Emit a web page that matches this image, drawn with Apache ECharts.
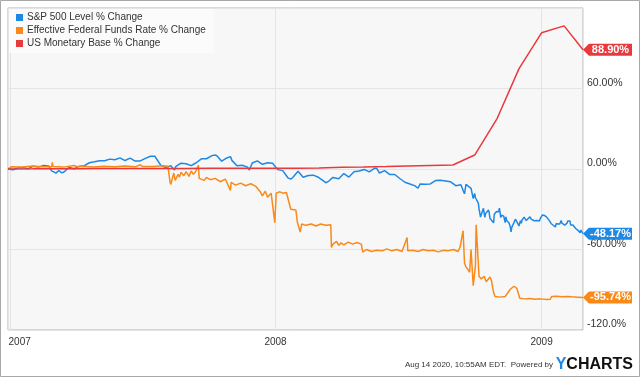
<!DOCTYPE html>
<html>
<head>
<meta charset="utf-8">
<script src="https://cdn.jsdelivr.net/npm/echarts@6/dist/echarts.min.js"></script>
<style>
  html, body { margin: 0; padding: 0; background: #fff; }
  #chart { width: 640px; height: 377px; }
</style>
</head>
<body>
<div id="chart"></div>
<script>
// % change since 2006-12-29
var spx = [
  ['2006-12-29',0],['2007-01-05',-0.61],['2007-01-12',0.87],['2007-01-19',0.86],['2007-01-26',0.27],
  ['2007-02-02',2.12],['2007-02-09',1.40],['2007-02-16',2.62],['2007-02-23',2.32],['2007-02-27',-1.36],
  ['2007-03-02',-2.19],['2007-03-05',-3.11],['2007-03-09',-1.09],['2007-03-13',-2.9],['2007-03-16',-2.21],
  ['2007-03-23',1.26],['2007-03-30',0.18],['2007-04-05',1.80],['2007-04-13',2.44],['2007-04-20',4.66],
  ['2007-04-27',5.34],['2007-05-04',6.16],['2007-05-11',6.17],['2007-05-18',7.36],['2007-05-25',6.87],
  ['2007-06-01',8.32],['2007-06-08',6.30],['2007-06-15',8.08],['2007-06-22',5.94],['2007-06-29',6.00],
  ['2007-07-06',7.90],['2007-07-13',9.46],['2007-07-19',9.50],['2007-07-20',8.16],['2007-07-27',2.87],
  ['2007-08-03',1.04],['2007-08-10',2.49],['2007-08-15',-0.82],['2007-08-17',1.95],['2007-08-24',4.31],
  ['2007-08-31',3.93],['2007-09-07',2.49],['2007-09-14',4.65],['2007-09-21',7.58],['2007-09-28',7.65],
  ['2007-10-05',9.82],['2007-10-09',10.35],['2007-10-12',10.12],['2007-10-19',5.80],['2007-10-26',8.25],
  ['2007-10-31',9.24],['2007-11-02',6.44],['2007-11-09',2.50],['2007-11-16',2.85],['2007-11-23',1.58],
  ['2007-11-26',-0.78],['2007-11-30',4.43],['2007-12-07',6.09],['2007-12-14',3.50],['2007-12-21',4.66],
  ['2007-12-28',4.24],['2008-01-04',-0.47],['2008-01-11',-1.22],['2008-01-18',-6.56],['2008-01-22',-7.60],
  ['2008-01-25',-6.18],['2008-02-01',-1.61],['2008-02-08',-6.13],['2008-02-15',-4.82],['2008-02-22',-4.60],
  ['2008-02-29',-6.18],['2008-03-07',-8.81],['2008-03-10',-10.22],['2008-03-14',-9.18],['2008-03-20',-6.26],
  ['2008-03-28',-7.27],['2008-04-04',-3.38],['2008-04-11',-6.03],['2008-04-18',-1.97],['2008-04-25',-1.44],
  ['2008-05-02',-0.31],['2008-05-09',-2.12],['2008-05-16',0.50],['2008-05-19',0.59],['2008-05-23',-2.99],
  ['2008-05-30',-1.26],['2008-06-06',-4.06],['2008-06-13',-4.11],['2008-06-20',-7.08],['2008-06-27',-9.87],
  ['2008-07-03',-10.96],['2008-07-11',-12.61],['2008-07-15',-14.34],['2008-07-18',-11.11],['2008-07-25',-11.32],
  ['2008-08-01',-11.14],['2008-08-08',-8.60],['2008-08-15',-8.47],['2008-08-22',-8.89],['2008-08-29',-9.55],
  ['2008-09-05',-12.41],['2008-09-12',-11.75],['2008-09-15',-15.91],['2008-09-17',-18.47],['2008-09-19',-11.51],
  ['2008-09-26',-14.46],['2008-09-29',-21.99],['2008-10-01',-18.14],['2008-10-02',-21.44],['2008-10-03',-22.50],
  ['2008-10-06',-25.48],['2008-10-07',-29.76],['2008-10-08',-30.55],['2008-10-09',-35.84],['2008-10-10',-36.60],
  ['2008-10-13',-29.26],['2008-10-14',-29.63],['2008-10-15',-35.99],['2008-10-16',-33.27],['2008-10-17',-33.68],
  ['2008-10-20',-30.52],['2008-10-21',-32.66],['2008-10-22',-36.77],['2008-10-23',-35.97],['2008-10-24',-38.18],
  ['2008-10-27',-40.15],['2008-10-28',-33.69],['2008-10-29',-34.42],['2008-10-30',-32.73],['2008-10-31',-31.70],
  ['2008-11-03',-31.87],['2008-11-04',-29.09],['2008-11-05',-32.82],['2008-11-06',-36.20],['2008-11-07',-34.36],
  ['2008-11-10',-35.19],['2008-11-11',-36.62],['2008-11-12',-39.91],['2008-11-13',-35.75],['2008-11-14',-38.43],
  ['2008-11-17',-40.02],['2008-11-18',-39.43],['2008-11-19',-43.13],['2008-11-20',-46.95],['2008-11-21',-43.59],
  ['2008-11-24',-39.94],['2008-11-25',-39.55],['2008-11-26',-37.41],['2008-11-28',-36.81],['2008-12-01',-42.45],
  ['2008-12-02',-40.15],['2008-12-03',-38.61],['2008-12-04',-40.41],['2008-12-05',-38.23],['2008-12-08',-35.86],
  ['2008-12-09',-37.34],['2008-12-10',-36.60],['2008-12-11',-38.41],['2008-12-12',-37.97],['2008-12-16',-35.61],
  ['2008-12-17',-36.23],['2008-12-18',-37.58],['2008-12-19',-37.40],['2008-12-22',-38.54],['2008-12-26',-38.46],
  ['2008-12-29',-38.70],['2008-12-30',-37.20],['2008-12-31',-36.31],['2009-01-02',-34.30],['2009-01-05',-34.61],
  ['2009-01-06',-34.10],['2009-01-07',-36.08],['2009-01-08',-35.86],['2009-01-09',-37.22],['2009-01-12',-38.64],
  ['2009-01-13',-38.53],['2009-01-14',-40.59],['2009-01-15',-40.51],['2009-01-16',-40.06],['2009-01-20',-43.23],
  ['2009-01-21',-40.76],['2009-01-22',-41.66],['2009-01-23',-41.34],['2009-01-26',-41.02],['2009-01-27',-40.37],
  ['2009-01-28',-38.37],['2009-01-29',-40.41],['2009-01-30',-41.77],['2009-02-02',-41.80],['2009-02-03',-40.88],
  ['2009-02-04',-41.32],['2009-02-05',-40.36],['2009-02-06',-38.76],['2009-02-09',-38.67],['2009-02-10',-41.68],
  ['2009-02-11',-41.22],['2009-02-12',-41.11],['2009-02-13',-41.70],['2009-02-17',-44.36],['2009-02-18',-44.41],
  ['2009-02-19',-45.08],['2009-02-20',-45.71],['2009-02-23',-47.59],['2009-02-24',-45.49],['2009-02-25',-46.07],
  ['2009-02-26',-46.92],['2009-02-27',-48.17]
];

var fedFunds = [
  ['2006-12-29',0],['2007-01-03',1.7],['2007-01-17',1.5],['2007-02-01',2.2],['2007-02-14',1.6],
  ['2007-02-27',1.6],['2007-02-28',5.0],['2007-03-01',1.8],['2007-03-15',1.4],['2007-03-30',2.6],
  ['2007-04-03',1.7],['2007-04-10',2.0],['2007-04-25',1.5],['2007-05-10',2.0],['2007-05-25',1.7],
  ['2007-06-08',2.3],['2007-06-22',1.6],['2007-06-29',3.2],['2007-07-02',1.8],['2007-07-16',1.9],
  ['2007-07-31',2.4],['2007-08-06',2.0],['2007-08-09',-10.0],['2007-08-10',-11.5],['2007-08-14',-3],
  ['2007-08-16',-8.5],['2007-08-20',-4],['2007-08-22',-6],['2007-08-24',-2.5],['2007-08-28',-5],
  ['2007-08-31',-2],['2007-09-04',-5.5],['2007-09-07',-1.5],['2007-09-10',-4],['2007-09-13',-2],
  ['2007-09-17',3.0],['2007-09-18',-7],['2007-09-20',-6.5],['2007-09-25',-8.5],['2007-09-28',-6.2],
  ['2007-10-03',-8],['2007-10-10',-7],['2007-10-17',-9.5],['2007-10-24',-7.5],['2007-10-31',-16],
  ['2007-11-01',-10],['2007-11-07',-12],['2007-11-14',-10.5],['2007-11-21',-12.5],['2007-11-28',-11],
  ['2007-12-05',-13],['2007-12-11',-17],['2007-12-14',-20],['2007-12-18',-16.5],['2007-12-21',-21],
  ['2007-12-26',-18],['2007-12-31',-40],['2008-01-02',-18],['2008-01-07',-17],['2008-01-11',-18],
  ['2008-01-16',-17.5],['2008-01-22',-30],['2008-01-24',-31],['2008-01-29',-30.5],['2008-01-31',-39.5],
  ['2008-02-04',-47],['2008-02-06',-41],['2008-02-12',-42],['2008-02-19',-41],['2008-02-26',-42.5],
  ['2008-03-03',-41],['2008-03-10',-42],['2008-03-17',-41.5],['2008-03-18',-58.5],['2008-03-20',-56],
  ['2008-03-25',-54],['2008-03-28',-57],['2008-03-31',-55],['2008-04-04',-56.5],['2008-04-10',-54.5],
  ['2008-04-16',-56],['2008-04-22',-54.8],['2008-04-28',-56],['2008-04-30',-62],['2008-05-05',-60],
  ['2008-05-12',-61.5],['2008-05-19',-60.5],['2008-05-27',-61],['2008-06-02',-59.5],['2008-06-09',-61],
  ['2008-06-16',-60],['2008-06-23',-61.5],['2008-06-30',-51],['2008-07-01',-61],['2008-07-08',-60.5],
  ['2008-07-15',-61.5],['2008-07-22',-60],['2008-07-29',-61],['2008-08-05',-60.5],['2008-08-12',-61.8],
  ['2008-08-19',-60.5],['2008-08-26',-61],['2008-09-02',-60],['2008-09-08',-61.5],['2008-09-11',-58],
  ['2008-09-15',-46],['2008-09-16',-45],['2008-09-17',-70],['2008-09-19',-73],['2008-09-22',-75],
  ['2008-09-24',-77],['2008-09-26',-60],['2008-09-29',-87],['2008-10-02',-72],['2008-10-03',-41.5],
  ['2008-10-07',-80],['2008-10-10',-82],['2008-10-14',-80],['2008-10-17',-84],['2008-10-22',-80.5],
  ['2008-10-24',-83],['2008-10-27',-92],['2008-10-29',-95],['2008-11-05',-95.5],['2008-11-12',-95],
  ['2008-11-19',-89.6],['2008-11-24',-87.4],['2008-11-28',-89],['2008-12-02',-96.3],['2008-12-09',-96.8],
  ['2008-12-16',-96.5],['2008-12-23',-97],['2008-12-30',-96.8],['2009-01-09',-97.2],['2009-01-13',-97],
  ['2009-01-15',-95],['2009-01-22',-94.8],['2009-01-29',-95.2],['2009-02-05',-95],['2009-02-12',-95.3],
  ['2009-02-19',-95.5],['2009-02-27',-95.74]
];

var monetaryBase = [
  ['2006-12-29',0],['2007-02-01',0.1],['2007-03-01',0.2],['2007-04-01',0.2],['2007-05-01',0.3],
  ['2007-06-01',0.3],['2007-07-01',0.4],['2007-08-01',0.4],['2007-09-01',0.4],['2007-10-01',0.5],
  ['2007-11-01',0.5],['2007-12-01',0.6],['2008-01-01',0.6],['2008-02-01',0.6],['2008-03-01',0.8],
  ['2008-04-01',1.3],['2008-05-01',1.5],['2008-06-01',1.9],['2008-07-01',2.3],['2008-08-01',2.7],
  ['2008-09-01',3.0],['2008-10-01',10.4],['2008-11-01',37.8],['2008-12-01',74.8],['2009-01-01',101.5],
  ['2009-02-01',106.7],['2009-02-27',88.9]
];

var seriesNames = ['S&P 500 Level % Change', 'Effective Federal Funds Rate % Change', 'US Monetary Base % Change'];
var seriesColors = ['#1e88e5', '#f98a1a', '#e8393d'];
var yTicks = { min: -120, max: 120, interval: 60 };

function badge(data, color) {
  var last = data[data.length - 1];
  return {
    symbol: 'path://M0,6L6,0H50V12H6Z',
    symbolSize: [49, 12],
    symbolOffset: [24.5, 0],
    silent: true,
    itemStyle: { color: color },
    label: {
      show: true, position: 'inside', offset: [3, 0],
      color: '#fff', fontWeight: 'bold', fontSize: 11,
      fontFamily: 'Liberation Sans, Arial, sans-serif',
      formatter: '{b}'
    },
    data: [{ coord: last, name: last[1].toFixed(2) + '%' }]
  };
}

function line(name, data, color) {
  return {
    name: name,
    type: 'line',
    data: data,
    color: color,
    showSymbol: false,
    lineStyle: { width: 1.5, color: color },
    markPoint: badge(data, color)
  };
}

var chart = echarts.init(document.getElementById('chart'), null, { renderer: 'canvas' });
chart.setOption({
  animation: false,
  backgroundColor: '#fff',
  textStyle: { fontFamily: 'Liberation Sans, Arial, sans-serif' },
  grid: {
    left: 8, right: 57, top: 8, bottom: 47,
    show: true, backgroundColor: '#f7f7f7', borderColor: '#b4b4b4', borderWidth: 1
  },
  legend: {
    orient: 'vertical', left: 9, top: 9,
    padding: [2, 8, 3, 7],
    backgroundColor: '#fbfbfb',
    icon: 'rect', itemWidth: 7, itemHeight: 7, itemGap: 0,
    textStyle: { fontSize: 10, color: '#333', lineHeight: 13, padding: [0, 0, 0, -1] },
    data: seriesNames
  },
  xAxis: {
    type: 'time',
    min: spx[0][0],
    max: spx[spx.length - 1][0],
    minInterval: 365 * 24 * 3600 * 1000,
    maxInterval: 366 * 24 * 3600 * 1000,
    axisLine: { show: false },
    axisTick: { show: false },
    splitLine: { show: true, lineStyle: { color: '#e4e4e4' } },
    axisLabel: {
      color: '#333', fontSize: 10, margin: 7,
      showMinLabel: false, showMaxLabel: false,
      formatter: function (v) {
        var y = new Date(v).getFullYear();
        return y === 2007 ? '{first|' + y + '}' : String(y);
      },
      rich: { first: { color: '#333', fontSize: 10, padding: [0, 0, 0, 19] } }
    }
  },
  yAxis: {
    type: 'value',
    position: 'right',
    min: yTicks.min, max: yTicks.max, interval: yTicks.interval,
    axisLine: { show: false },
    axisTick: { show: false },
    splitLine: { lineStyle: { color: '#e4e4e4' } },
    axisLabel: {
      color: '#333', fontSize: 10.5, margin: 4, verticalAlign: 'bottom',
      showMaxLabel: false,
      formatter: function (v) { return v === -120 ? '-120.0%' : v.toFixed(2) + '%'; }
    }
  },
  series: [
    line(seriesNames[0], spx, seriesColors[0]),
    line(seriesNames[1], fedFunds, seriesColors[1]),
    line(seriesNames[2], monetaryBase, seriesColors[2])
  ],
  graphic: [
    { type: 'rect', shape: { x: 0.5, y: 0.5, width: 639, height: 376 }, style: { fill: null, stroke: '#a8a8a8', lineWidth: 1 }, silent: true },
    { type: 'text', right: 87, top: 361, style: { text: 'Aug 14 2020, 10:55AM EDT.  Powered by', fill: '#333', font: '8px "Liberation Sans", Arial, sans-serif' } },
    { type: 'text', right: 7, top: 357, style: {
        text: '{y|Y}{c|CHARTS}',
        rich: {
          y: { fill: '#1e88e5', font: 'bold 16px "Liberation Sans", Arial, sans-serif' },
          c: { fill: '#111', font: 'bold 16px "Liberation Sans", Arial, sans-serif' }
        }
      } }
  ]
});
window.addEventListener('resize', function () { chart.resize(); });
</script>
</body>
</html>
